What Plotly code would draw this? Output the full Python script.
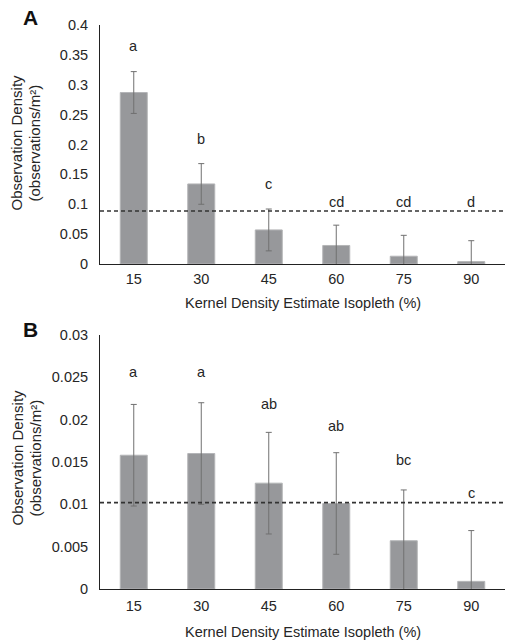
import plotly.graph_objects as go

# ---- data ----
categories = ["15", "30", "45", "60", "75", "90"]

a_values = [0.287, 0.134, 0.057, 0.031, 0.013, 0.004]
a_errors = [0.035, 0.034, 0.035, 0.034, 0.035, 0.035]
a_letters = ["a", "b", "c", "cd", "cd", "d"]
a_letter_y = [0.365, 0.209, 0.134, 0.104, 0.104, 0.103]
a_threshold = 0.0886
a_ticks = [0, 0.05, 0.1, 0.15, 0.2, 0.25, 0.3, 0.35, 0.4]
a_ticktext = ["0", "0.05", "0.1", "0.15", "0.2", "0.25", "0.3", "0.35", "0.4"]

b_values = [0.0158, 0.0160, 0.0125, 0.0101, 0.0057, 0.0009]
b_errors = [0.0060, 0.0060, 0.0060, 0.0060, 0.0060, 0.0060]
b_letters = ["a", "a", "ab", "ab", "bc", "c"]
b_letter_y = [0.0256, 0.0256, 0.0218, 0.0193, 0.0152, 0.0113]
b_threshold = 0.0102
b_ticks = [0, 0.005, 0.01, 0.015, 0.02, 0.025, 0.03]
b_ticktext = ["0", "0.005", "0.01", "0.015", "0.02", "0.025", "0.03"]

x_title = "Kernel Density Estimate Isopleth (%)"
y_title_lines = ["Observation Density", "(observations/m²)"]
panel_labels = ["A", "B"]

# ---- style ----
W, H = 505, 640
FONT = "Liberation Sans, Arial, sans-serif"
FS = 14.5
TXT = "#262626"
BAR = "#97989b"
ERR = "#707070"

def py(px):
    return 1 - px / H

x_dom = [100 / W, 1.0]
a_dom = [py(264), py(25)]
b_dom = [py(589), py(335)]

fig = go.Figure()

for vals, errs, ax in [(a_values, a_errors, ("x", "y")), (b_values, b_errors, ("x2", "y2"))]:
    fig.add_trace(go.Bar(
        x=categories, y=vals, xaxis=ax[0], yaxis=ax[1], width=0.4,
        marker=dict(color=BAR, line=dict(color="#b4b5b7", width=1)),
        error_y=dict(type="data", array=errs, color=ERR, thickness=1, width=3),
        showlegend=False, hoverinfo="skip",
    ))

axis_common = dict(showline=True, linecolor="#222222", linewidth=1, showgrid=False,
                   zeroline=False, tickfont=dict(family=FONT, size=FS, color=TXT),
                   ticks="outside", tickcolor="rgba(0,0,0,0)", automargin=False)

fig.update_layout(
    width=W, height=H, margin=dict(l=0, r=0, t=0, b=0, pad=0),
    plot_bgcolor="white", paper_bgcolor="white", bargap=0.6,
    xaxis=dict(domain=x_dom, anchor="y", type="category", range=[-0.5, 5.5], ticklen=2, **axis_common),
    yaxis=dict(domain=a_dom, anchor="x", range=[0, 0.4], tickvals=a_ticks, ticktext=a_ticktext, ticklen=8, **axis_common),
    xaxis2=dict(domain=x_dom, anchor="y2", type="category", range=[-0.5, 5.5], ticklen=4, **axis_common),
    yaxis2=dict(domain=b_dom, anchor="x2", range=[0, 0.03], tickvals=b_ticks, ticktext=b_ticktext, ticklen=8, **axis_common),
)

# threshold dashed lines
for thr, xr, yr in [(a_threshold, "x domain", "y"), (b_threshold, "x2 domain", "y2")]:
    fig.add_shape(type="line", xref=xr, yref=yr, x0=0, x1=1, y0=thr, y1=thr,
                  line=dict(color="#333333", width=1.6, dash="4px,3px"))

# significance letters (category index positions)
for letters, ly, xr, yr in [(a_letters, a_letter_y, "x", "y"), (b_letters, b_letter_y, "x2", "y2")]:
    for i, (l, yv) in enumerate(zip(letters, ly)):
        fig.add_annotation(x=i, y=yv, xref=xr, yref=yr, text=l, showarrow=False,
                           font=dict(family=FONT, size=FS, color=TXT))

# axis titles
for ypx in [303, 632]:
    fig.add_annotation(x=(x_dom[0] + x_dom[1]) / 2, y=py(ypx), xref="paper", yref="paper",
                       text=x_title, showarrow=False, xanchor="center", yanchor="middle",
                       font=dict(family=FONT, size=FS, color=TXT))
for yc in [143, 458]:
    for line, xc in zip(y_title_lines, [16.5, 34.5]):
        fig.add_annotation(x=xc / W, y=py(yc), xref="paper", yref="paper",
                           text=line, showarrow=False, textangle=-90, xanchor="center", yanchor="middle",
                           font=dict(family=FONT, size=15, color=TXT))

# panel labels
for lab, ypx in zip(panel_labels, [17.5, 329.5]):
    fig.add_annotation(x=30 / W, y=py(ypx), xref="paper", yref="paper", text="<b>" + lab + "</b>",
                       showarrow=False, xanchor="center", yanchor="middle",
                       font=dict(family=FONT, size=21, color="#111111"))

fig.write_html("out.html", config={"displayModeBar": False},
               post_script="document.body.style.margin='0';document.body.style.overflow='hidden';")
